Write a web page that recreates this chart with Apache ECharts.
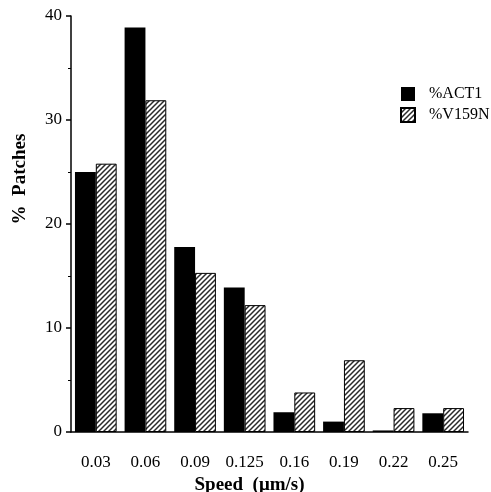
<!DOCTYPE html>
<html>
<head>
<meta charset="utf-8">
<script src="https://cdn.jsdelivr.net/npm/echarts@6/dist/echarts.min.js"></script>
<style>html,body{margin:0;padding:0;background:#fff;}#chart{width:491px;height:492px;}</style>
</head>
<body>
<div id="chart"></div>
<script>
const categories = ['0.03', '0.06', '0.09', '0.125', '0.16', '0.19', '0.22', '0.25'];
const act1 = [25.0, 38.9, 17.8, 13.9, 1.9, 1.0, 0.15, 1.8];
const v159n = [25.8, 31.9, 15.3, 12.2, 3.8, 6.9, 2.3, 2.3];
const seriesNames = ['%ACT1', '%V159N'];

const pc = document.createElement('canvas');
pc.width = 5; pc.height = 5;
const g = pc.getContext('2d');
g.fillStyle = '#ffffff';
g.fillRect(0, 0, 5, 5);
g.strokeStyle = '#2a2a2a';
g.lineWidth = 1.5;
g.beginPath();
g.moveTo(-1, 6); g.lineTo(6, -1);
g.moveTo(-1, 1); g.lineTo(1, -1);
g.moveTo(4, 6); g.lineTo(6, 4);
g.stroke();

const font = 'Liberation Serif';
const chart = echarts.init(document.getElementById('chart'), null, {renderer: 'canvas'});
chart.setOption({
  animation: false,
  backgroundColor: '#ffffff',
  grid: {left: 71, right: 23, top: 16, bottom: 60, containLabel: false, outerBoundsMode: 'none'},
  legend: {
    orient: 'vertical', left: 400, top: 86, padding: 0,
    icon: 'rect',
    itemWidth: 14, itemHeight: 14, itemGap: 5,
    textStyle: {fontFamily: font, fontSize: 16, color: '#000', padding: [0, 0, 0, 9]},
    data: seriesNames
  },
  xAxis: {
    type: 'category', data: categories,
    name: 'Speed  (\u03bcm/s)', nameLocation: 'middle', nameGap: 42,
    nameTextStyle: {fontFamily: font, fontSize: 19, fontWeight: 'bold', color: '#000', padding: [0, 40, 0, 0]},
    axisLine: {lineStyle: {color: '#000', width: 1.5}},
    axisTick: {length: 4, lineStyle: {color: '#000', width: 1.5}},
    axisLabel: {fontFamily: font, fontSize: 17, color: '#000', margin: 22, interval: 0}
  },
  yAxis: {
    type: 'value', min: 0, max: 40, interval: 10,
    name: '%  Patches', nameLocation: 'middle', nameGap: 41,
    nameTextStyle: {fontFamily: font, fontSize: 19, fontWeight: 'bold', color: '#000', padding: [0, 0, 0, 90]},
    axisLine: {show: true, lineStyle: {color: '#000', width: 1.5}},
    axisTick: {show: true, length: 5, lineStyle: {color: '#000', width: 1.5}},
    minorTick: {show: true, splitNumber: 2, length: 3, lineStyle: {color: '#000', width: 1}},
    splitLine: {show: false},
    axisLabel: {fontFamily: font, fontSize: 17, color: '#000', margin: 9}
  },
  series: [
    {
      name: seriesNames[0], type: 'bar', data: act1,
      barGap: '0%', barCategoryGap: '16%',
      itemStyle: {color: '#000'}
    },
    {
      name: seriesNames[1], type: 'bar', data: v159n,
      barGap: '0%', barCategoryGap: '16%',
      itemStyle: {color: {image: pc, repeat: 'repeat'}, borderColor: '#000', borderWidth: 1}
    }
  ]
});
</script>
</body>
</html>
